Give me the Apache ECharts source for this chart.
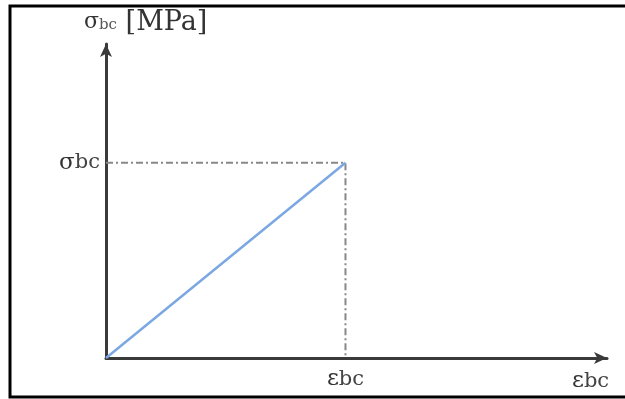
<!DOCTYPE html>
<html><head><meta charset="utf-8">
<script src="https://cdn.jsdelivr.net/npm/echarts@6/dist/echarts.min.js"></script>
<style>html,body{margin:0;padding:0;background:#fff}#c{width:625px;height:399px}</style>
</head><body><div id="c"></div>
<script>
// data (normalised units: axis spans 0..1)
const strain = [0, 0.478];
const stress = [0, 0.622];
const xTickValues = [0.478];
const yTickValues = [0.622];
const xTickLabel = 'ε';
const yTickLabel = 'σ';
const sub = 'bc';
const yName = ['σ', 'bc', ' [MPa]'];
const xName = ['ε', 'bc'];

const chart = echarts.init(document.getElementById('c'));
const serif = '"DejaVu Serif","Liberation Serif",serif';
const peak = [strain[1], stress[1]];
const lblRich = {a: {fontFamily: serif, fontSize: 23, color: '#333'}, b: {fontFamily: serif, fontSize: 21, color: '#444'}};
chart.setOption({
  animation: false,
  grid: {left: 106, right: 18, top: 44, bottom: 41},
  graphic: [{type: 'rect', shape: {x: 10, y: 6, width: 640, height: 391}, style: {fill: 'none', stroke: '#000', lineWidth: 3}}],
  xAxis: {
    type: 'value', min: 0, max: 1,
    axisLine: {show: true, symbol: ['none', 'arrow'], symbolSize: [9, 13], lineStyle: {color: '#3a3a3a', width: 3}},
    splitLine: {show: false}, axisTick: {show: false},
    axisLabel: {customValues: xTickValues, margin: 10, formatter: () => '{a|' + xTickLabel + '}{b|' + sub + '}', rich: lblRich},
    name: '{a|' + xName[0] + '}{b|' + xName[1] + '}', nameLocation: 'end', nameGap: -35,
    nameTextStyle: {verticalAlign: 'top', padding: [12, 0, 0, 0], rich: lblRich}
  },
  yAxis: {
    type: 'value', min: 0, max: 1,
    axisLine: {show: true, symbol: ['none', 'arrow'], symbolSize: [9, 13], lineStyle: {color: '#3a3a3a', width: 3}},
    splitLine: {show: false}, axisTick: {show: false},
    axisLabel: {customValues: yTickValues, margin: 6, formatter: () => '{a|' + yTickLabel + '}{b|' + sub + '}', rich: lblRich},
    name: '{a|' + yName[0] + '}{b|' + yName[1] + '}{c|' + yName[2] + '}', nameLocation: 'end', nameGap: 8,
    nameTextStyle: {align: 'left', padding: [0, 0, 0, -22],
      rich: {a: {fontFamily: serif, fontSize: 22, color: '#333'}, b: {fontFamily: serif, fontSize: 15, color: '#555', padding: [6, 0, 0, 0]}, c: {fontFamily: serif, fontSize: 27, color: '#333'}}}
  },
  series: [
    {type: 'line', data: strain.map((x, i) => [x, stress[i]]), symbol: 'none', lineStyle: {color: '#7ba7e3', width: 2.5}},
    {type: 'line', data: [[0, peak[1]], peak, [peak[0], 0]], symbol: 'none', z: 1,
      lineStyle: {color: '#888', width: 2, type: [7, 3, 2, 3]}}
  ]
});
</script></body></html>
